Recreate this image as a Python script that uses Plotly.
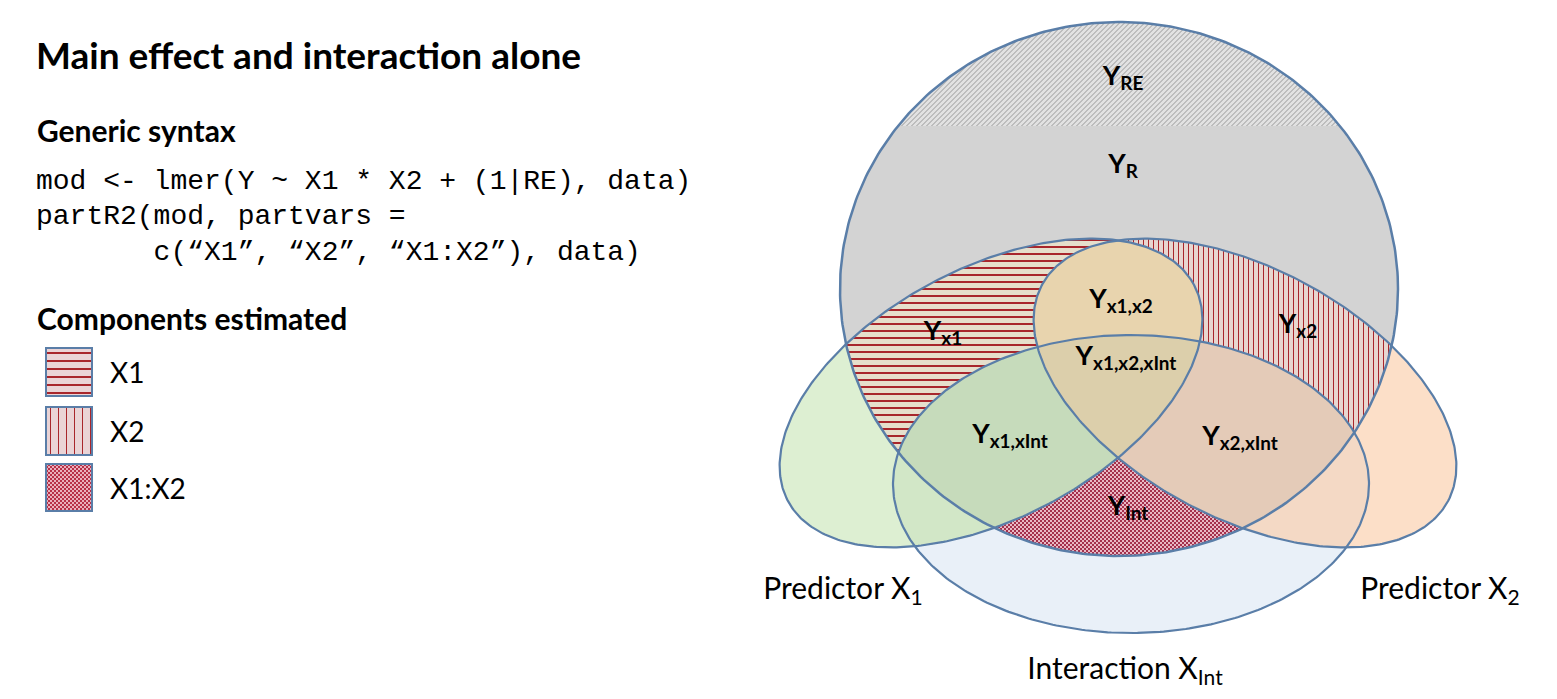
import numpy as np, zlib, struct, base64
import plotly.graph_objects as go

W, H = 1557, 699
# geometry (pixel space)
circle = dict(cx=1111, cy=281, rx=279, ry=267)
ell_x1 = dict(cx=983, cy=385, a=230, b=125, ang=-28)
ell_x2 = dict(cx=1237, cy=385, a=230, b=125, ang=28)
ell_int = dict(cx=1123, cy=476, a=238, b=149, ang=0)
cap_y = 118

region_labels = ["Y<sub>RE</sub>", "Y<sub>R</sub>", "Y<sub>x1</sub>", "Y<sub>x1,x2</sub>", "Y<sub>x2</sub>",
                 "Y<sub>x1,x2,xInt</sub>", "Y<sub>x1,xInt</sub>", "Y<sub>x2,xInt</sub>", "Y<sub>Int</sub>"]
label_x = [1115, 1115, 935, 1113, 1290, 1118, 1002, 1232, 1120]
label_y = [70, 158, 325, 293, 318, 350, 428, 430, 500]
set_names = ["Predictor X<sub>1</sub>", "Predictor X<sub>2</sub>", "Interaction X<sub>Int</sub>"]
set_x = [835, 1432, 1117]
set_y = [583, 583, 663]
legend_names = ["X1", "X2", "X1:X2"]
legend_y = [364, 423, 480]

yy, xx = np.mgrid[0:H, 0:W].astype(float)
def in_ell(e):
    t = np.radians(e["ang"])
    dx, dy = xx - e["cx"], yy - e["cy"]
    u = dx*np.cos(t) + dy*np.sin(t)
    v = -dx*np.sin(t) + dy*np.cos(t)
    return (u/e["a"])**2 + (v/e["b"])**2 <= 1
C = ((xx-circle["cx"])/circle["rx"])**2 + ((yy-circle["cy"])/circle["ry"])**2 <= 1
A = in_ell(ell_x1); B = in_ell(ell_x2); I = in_ell(ell_int)
xi, yi = xx.astype(int), yy.astype(int)

def hexc(h): return np.array([int(h[i:i+2], 16) for i in (1, 3, 5)], dtype=np.uint8)
img = np.full((H, W, 3), 255, dtype=np.uint8)
def paint(mask, col): img[mask] = hexc(col)
hstripe = (yi % 7) < 2
vstripe = (xi % 5) < 1
checker = ((xi//2 + yi//2) % 2) == 0
diag = ((xi + yi) % 5) < 2
red = "#a8262c"
# outside circle
paint(A & ~C, "#ddefd2"); paint(B & ~C, "#fcdfc8"); paint(I & ~C, "#e9f0f8")
paint(A & I & ~C, "#d2e7c7"); paint(B & I & ~C, "#f4d9c5")
# inside circle
paint(C & ~A & ~B & ~I, "#d3d3d3")
cap = C & (yi < cap_y)
paint(cap, "#e2e2e2"); paint(cap & diag, "#bdbdbd")
m = C & A & ~B & ~I; paint(m, "#e6dfcc"); paint(m & hstripe, red)
m = C & B & ~A & ~I; paint(m, "#e8d6d0"); paint(m & vstripe, red)
m = C & I & ~A & ~B; paint(m, "#e9b8c4"); paint(m & checker, "#a4304c")
paint(C & A & B & ~I, "#e8d4ae"); paint(C & A & B & I, "#dccfab")
paint(C & A & I & ~B, "#c6dbbb"); paint(C & B & I & ~A, "#e4cbb8")
# legend boxes
boxes = [(340, 388), (399, 447), (456, 503)]
for k, (y0, y1) in enumerate(boxes):
    m = (xi >= 38) & (xi <= 84) & (yi >= y0) & (yi <= y1)
    paint(m, "#ead4d6" if k < 2 else "#eab0bc")
    if k == 0: paint(m & (((yi - y0) % 8 == 4) | ((yi - y0) % 8 == 5)), red)
    if k == 1: paint(m & ((xi - 38) % 8 == 4), red)
    if k == 2: paint(m & checker, "#b83048")

def png_uri(a):
    raw = b"".join(b"\x00" + a[r].tobytes() for r in range(a.shape[0]))
    def chunk(t, d): return struct.pack(">I", len(d)) + t + d + struct.pack(">I", zlib.crc32(t + d) & 0xffffffff)
    png = b"\x89PNG\r\n\x1a\n" + chunk(b"IHDR", struct.pack(">IIBBBBB", a.shape[1], a.shape[0], 8, 2, 0, 0, 0)) \
        + chunk(b"IDAT", zlib.compress(raw, 9)) + chunk(b"IEND", b"")
    return "data:image/png;base64," + base64.b64encode(png).decode()

fig = go.Figure()
edge = "#5a7ea8"
th = np.linspace(0, 2*np.pi, 400)
def ell_xy(cx, cy, a, b, ang):
    t = np.radians(ang)
    u, v = a*np.cos(th), b*np.sin(th)
    return cx + u*np.cos(t) - v*np.sin(t), cy + u*np.sin(t) + v*np.cos(t)
for e in [ell_x1, ell_x2, ell_int]:
    x, y = ell_xy(e["cx"], e["cy"], e["a"], e["b"], e["ang"])
    fig.add_trace(go.Scatter(x=x, y=y, mode="lines", line=dict(color=edge, width=2.2), hoverinfo="skip"))
x, y = ell_xy(circle["cx"], circle["cy"], circle["rx"], circle["ry"], 0)
fig.add_trace(go.Scatter(x=x, y=y, mode="lines", line=dict(color=edge, width=2.5), hoverinfo="skip"))
for (y0, y1) in boxes:
    fig.add_shape(type="rect", x0=38, x1=84, y0=y0, y1=y1, line=dict(color=edge, width=2))

fig.add_trace(go.Scatter(x=label_x, y=label_y, mode="text", text=["<b>%s</b>" % t for t in region_labels],
                         textfont=dict(family="Lato", size=27, color="black"), hoverinfo="skip"))
fig.add_trace(go.Scatter(x=set_x, y=set_y, mode="text", text=set_names,
                         textfont=dict(family="Lato", size=30, color="black"), hoverinfo="skip"))

def txt(x, y, s, size, bold=False, fam="Lato"):
    fig.add_annotation(x=x, y=y, text=("<b>%s</b>" % s) if bold else s, showarrow=False, xanchor="left",
                       font=dict(family=fam, size=size, color="black"))
txt(26, 46, "Main effect and interaction alone", 37, True)
txt(27, 122, "Generic syntax", 30, True)
mono = "Liberation Mono"
txt(26, 173, "mod &lt;- lmer(Y ~ X1 * X2 + (1|RE), data)", 28, fam=mono)
txt(26, 208, "partR2(mod, partvars =", 28, fam=mono)
txt(26, 244, "       c(“X1”, “X2”, “X1:X2”), data)", 28, fam=mono)
txt(27, 310, "Components estimated", 30, True)
for n, y in zip(legend_names, legend_y):
    txt(100, y, n, 28)

fig.add_layout_image(source=png_uri(img), x=0, y=0, sizex=W, sizey=H, xref="x", yref="y",
                     xanchor="left", yanchor="top", sizing="stretch", layer="below")
fig.update_layout(width=W, height=H, margin=dict(l=0, r=0, t=0, b=0), showlegend=False,
                  plot_bgcolor="white", paper_bgcolor="white",
                  xaxis=dict(range=[0, W], visible=False, fixedrange=True),
                  yaxis=dict(range=[H, 0], visible=False, fixedrange=True))
fig.write_html("out.html")
